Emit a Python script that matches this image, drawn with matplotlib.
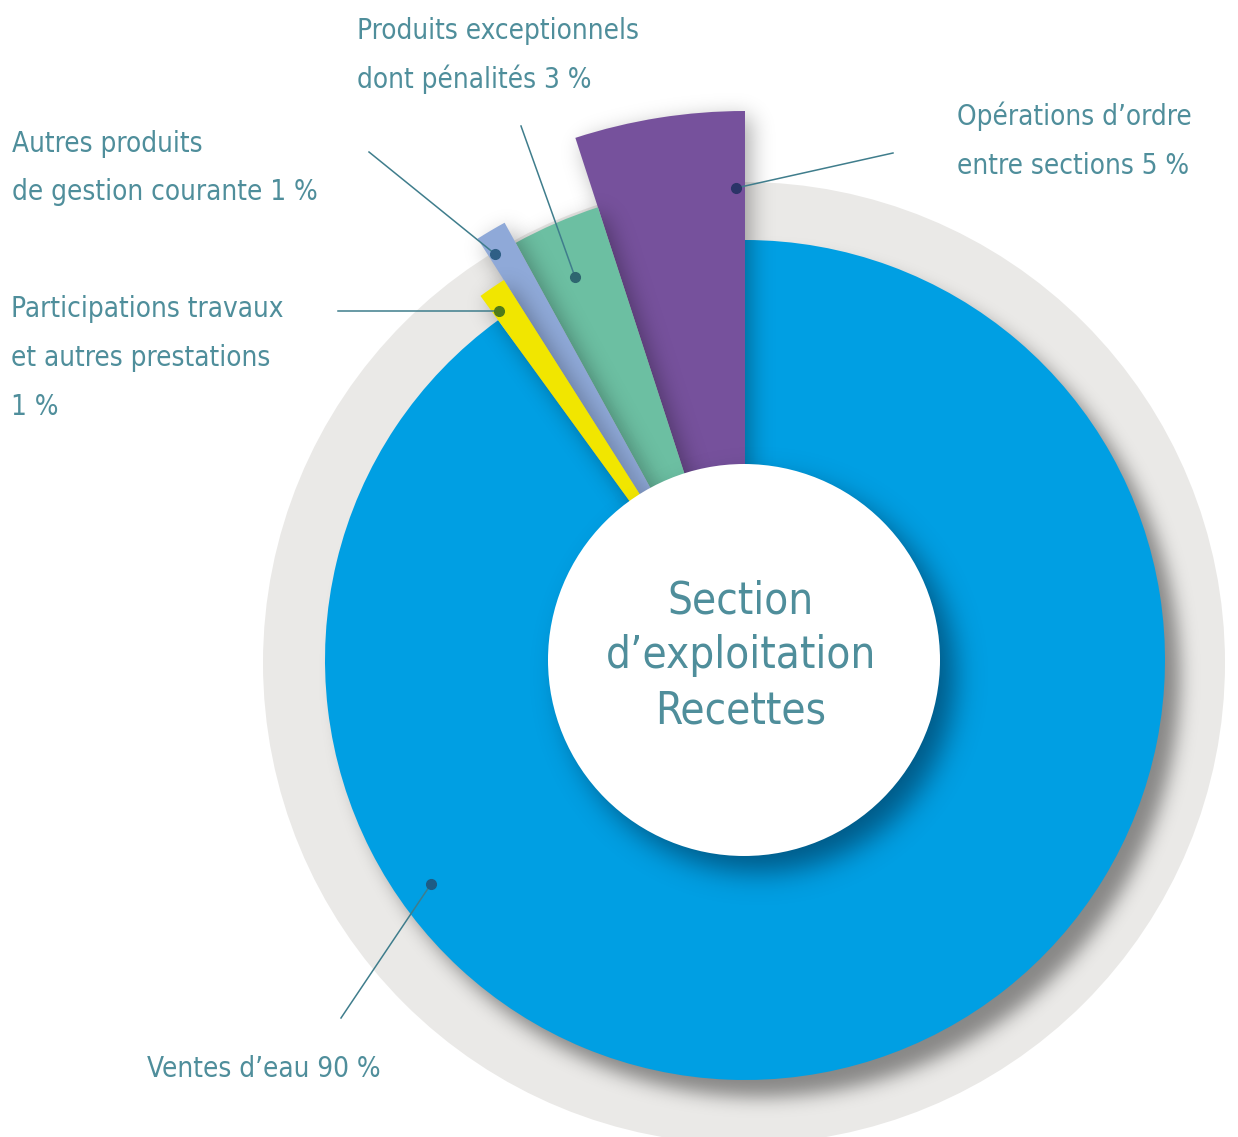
import numpy as np
import matplotlib.pyplot as plt
from matplotlib.patches import Wedge, Circle

# data
labels = [
    ["Opérations d’ordre", "entre sections 5 %"],
    ["Produits exceptionnels", "dont pénalités 3 %"],
    ["Autres produits", "de gestion courante 1 %"],
    ["Participations travaux", "et autres prestations", "1 %"],
    ["Ventes d’eau 90 %"],
]
values = [5, 3, 1, 1, 90]
center_lines = ["Section", "d’exploitation", "Recettes"]

# styles
colors = ["#76519C", "#6CBFA2", "#8FA9D8", "#F1E600", "#009FE3"]
dot_colors = ["#2B3468", "#2E6670", "#2F5F86", "#4F7A1A", "#1E5C85"]
radii = [549, 476, 499, 450, 420]
text_color = "#4F8E9B"
line_color = "#3F7D8C"

W, H = 1238, 1137
CX, CY = 745, 660          # centre in pixels, y from top
cx, cy = CX, H - CY

# layout of labels (pixel coords, y from top)
dot_xy = [(736, 188), (575, 277), (495, 254), (499, 311), (431, 884)]
end_xy = [(893, 153), (521, 126), (369, 152), (338, 311), (341, 1018)]
text_xy = [(957, [125, 174]), (357, [39, 88]), (12, [152, 200]),
           (11, [317, 366, 415]), (147, [1077])]

plt.rcParams['font.family'] = ['DejaVu Sans']
plt.rcParams['font.stretch'] = 'condensed'

fig = plt.figure(figsize=(W / 100, H / 100), dpi=100)
ax = fig.add_axes([0, 0, 1, 1])
ax.set_xlim(0, W)
ax.set_ylim(0, H)
ax.axis('off')

# pixel grid for soft shadows
py, px = np.mgrid[0:H, 0:W] + 0.5
fy = np.fft.fftfreq(H)[:, None]
fx = np.fft.fftfreq(W)[None, :]


def blur(img, s):
    k = np.exp(-2 * (np.pi * s) ** 2 * (fx ** 2 + fy ** 2))
    return np.clip(np.real(np.fft.ifft2(np.fft.fft2(img) * k)), 0, 1)


def wedge_mask(r, t1, t2, off):
    dx = px - CX - off[0]
    dy = CY + off[1] - py
    th = np.degrees(np.arctan2(dy, dx))
    inside = np.mod(th - t1, 360) <= (t2 - t1)
    return ((dx ** 2 + dy ** 2 <= r ** 2) & inside).astype(float)


def draw_shadow(mask, s, alpha, color, z):
    a = blur(mask, s) * alpha
    rgba = np.zeros((H, W, 4))
    rgba[..., :3] = plt.matplotlib.colors.to_rgb(color)
    rgba[..., 3] = a
    ax.imshow(rgba, extent=(0, W, 0, H), origin='upper', zorder=z,
              interpolation='nearest', aspect='auto')


# grey background disc
ax.add_patch(Circle((cx - 1, cy - 3), 481, color="#EAE9E7", lw=0, zorder=1))

# slice angles, counterclockwise from 12 o'clock
angles = np.concatenate([[0], np.cumsum(values)]) * 3.6 + 90

order = [4, 0, 1, 2, 3]
for z, k in enumerate(order):
    t1, t2 = angles[k], angles[k + 1]
    if k == 4:
        draw_shadow(wedge_mask(radii[k], t1, t2, (15, 17)), 9, 0.42,
                    "#000000", 2 + 2 * z)
    else:
        draw_shadow(wedge_mask(radii[k], t1, t2, (6, 6)), 11, 0.33,
                    "#000000", 2 + 2 * z)
    ax.add_patch(Wedge((cx, cy), radii[k], t1, t2, color=colors[k],
                       lw=0, zorder=3 + 2 * z))

# shadow of the centre disc
disc = (((px - CX - 14) ** 2 + (py - CY - 16) ** 2) <= 196 ** 2).astype(float)
draw_shadow(disc, 14, 0.5, "#00142A", 20)
ax.add_patch(Circle((cx - 1, cy), 196, color="white", lw=0, zorder=21))

for j, line in enumerate(center_lines):
    ax.text(741, H - [613, 668, 724][j], line, ha='center', va='baseline',
            fontsize=31.5, color=text_color, zorder=22)

# leader lines and labels
for k in range(len(values)):
    (dx, dy), (ex, ey) = dot_xy[k], end_xy[k]
    ax.plot([dx, ex], [H - dy, H - ey], color=line_color, lw=1.1, zorder=22)
    ax.plot(dx, H - dy, 'o', ms=7, color=dot_colors[k], zorder=23)
    tx, tys = text_xy[k]
    for line, ty in zip(labels[k], tys):
        ax.text(tx, H - ty, line, ha='left', va='baseline', fontsize=20,
                color=text_color, zorder=22)

ax.set_xlim(0, W)
ax.set_ylim(0, H)
fig.savefig("out.png", dpi=100)
